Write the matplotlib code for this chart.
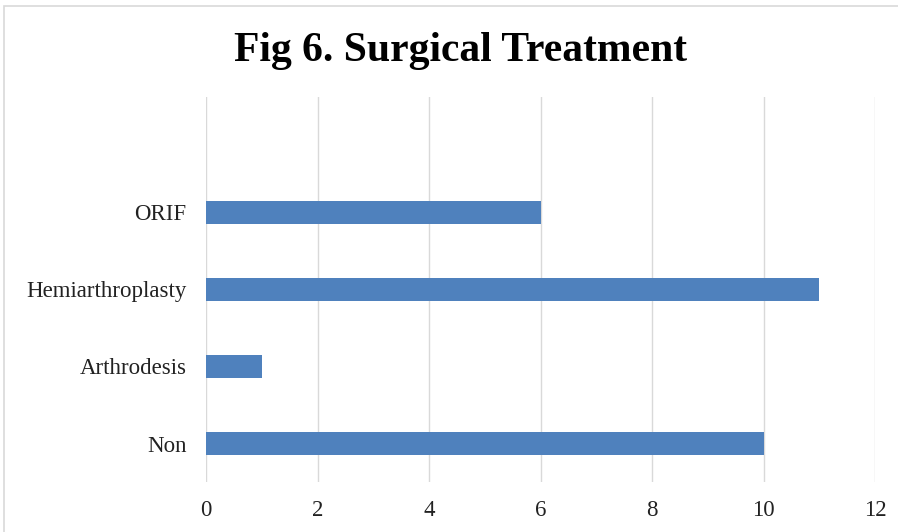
import matplotlib.pyplot as plt
from matplotlib.patches import Rectangle

categories = ['Non', 'Arthrodesis', 'Hemiarthroplasty', 'ORIF']
counts = [10, 1, 11, 6]
xticks = [0, 2, 4, 6, 8, 10, 12]


def main():
    plt.rcParams['font.family'] = ['Liberation Serif', 'DejaVu Serif']

    fig = plt.figure(figsize=(8.98, 5.32), dpi=100)
    ax = fig.add_axes([206 / 898, 1 - 482 / 532, 669 / 898, 385 / 532])

    # chart border (cropped at right and bottom in the original)
    fig.patches.append(Rectangle((4 / 898, -0.05), 1.2, (532 - 6) / 532 + 0.05,
                                 transform=fig.transFigure, fill=False,
                                 edgecolor='#d9d9d9', lw=1.2))

    ypos = list(range(len(categories)))
    ax.barh(ypos, counts, height=0.29, color='#4f81bd', zorder=3)

    ax.set_xlim(0, 12)
    ax.set_ylim(-0.5, 4.5)
    ax.set_xticks(xticks)
    ax.set_yticks(ypos)
    ax.set_yticklabels(categories)
    ax.tick_params(length=0, labelsize=16.5, colors='#222222')
    ax.tick_params(axis='x', pad=13)
    ax.tick_params(axis='y', pad=14)
    ax.grid(axis='x', color='#d9d9d9', lw=1, zorder=0)
    for s in ax.spines.values():
        s.set_visible(False)

    fig.text(460 / 898, 1 - 61 / 532, 'Fig 6. Surgical Treatment',
             ha='center', va='baseline', fontsize=30, fontweight='bold')

    fig.savefig('out.png', dpi=100)


if __name__ == '__main__':
    main()
